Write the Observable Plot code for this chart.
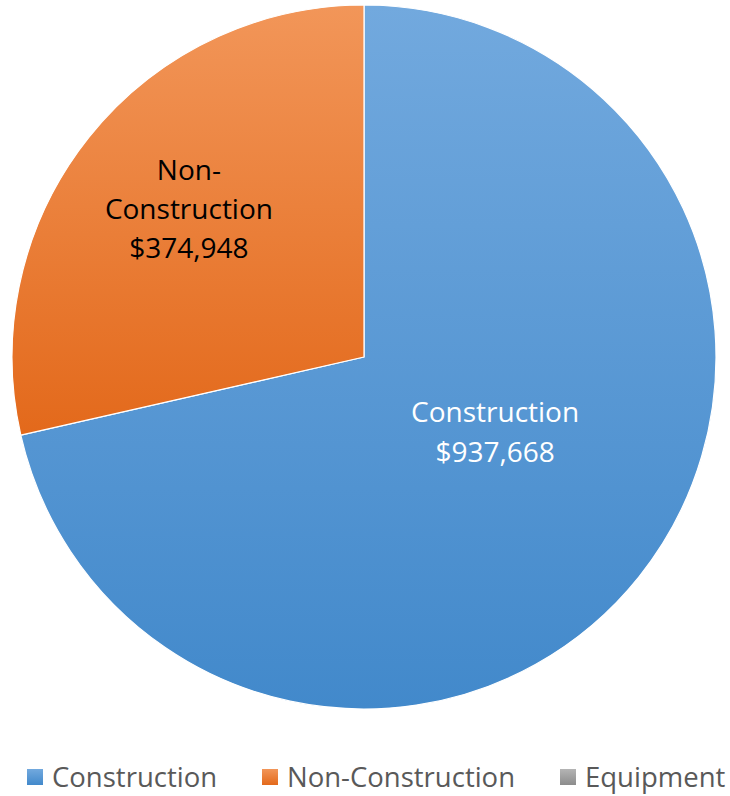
<!DOCTYPE html>
<html>
<head>
<meta charset="utf-8">
<script src="https://cdn.jsdelivr.net/npm/d3@7"></script>
<script src="https://cdn.jsdelivr.net/npm/@observablehq/plot@0.6"></script>
<style>
  html, body { margin: 0; padding: 0; background: #fff; }
  #chart { width: 730px; }
  .legend { position: relative; height: 50px; margin-top: 38px; font-family: "Open Sans", sans-serif; font-size: 27.5px; color: #595959; font-variant-ligatures: none; }
  .legend .item { position: absolute; top: 0; display: flex; align-items: center; white-space: nowrap; }
  .legend .sw { width: 16px; height: 16px; margin-right: 9px; }
  svg text { font-variant-ligatures: none; }
</style>
</head>
<body>
<div id="chart"></div>
<script>
const categories = ["Construction", "Non-Construction", "Equipment"];
const values = [937668, 374948, 0];
const labelNames = ["Construction", "Non-\nConstruction", ""];
const colorsTop = ["#72a9de", "#f29659", "#b4b4b4"];
const colorsBottom = ["#4289cb", "#e3691b", "#8c8c8c"];
const ids = ["gBlue", "gOrange", "gGray"];

const fmt = d3.format("$,");
const data = categories.map((c, i) => ({category: c, value: values[i], name: labelNames[i], label: labelNames[i] + "\n" + fmt(values[i]), i}));
const arcs = d3.pie().sort(null).value(d => d.value)(data);
arcs.forEach(a => {
  const mid = (a.startAngle + a.endAngle) / 2;
  a.data.cx = 0.5 * Math.sin(mid);
  a.data.cy = 0.5 * Math.cos(mid);
});

const pieMark = (index, scales, vals, dimensions) => {
  const g = d3.create("svg:g");
  const defs = g.append("defs");
  ids.forEach((id, i) => {
    const lg = defs.append("linearGradient").attr("id", id).attr("x1", 0).attr("y1", 0).attr("x2", 0).attr("y2", 1);
    lg.append("stop").attr("offset", "0%").attr("stop-color", colorsTop[i]);
    lg.append("stop").attr("offset", "100%").attr("stop-color", colorsBottom[i]);
  });
  const cx = scales.x(0), cy = scales.y(0);
  const r = scales.x(1) - scales.x(0);
  const arc = d3.arc().innerRadius(0).outerRadius(r);
  g.attr("transform", `translate(${cx},${cy})`);
  g.selectAll("path").data(arcs.filter(a => a.data.value > 0)).join("path")
    .attr("d", arc)
    .attr("fill", a => `url(#${ids[a.data.i]})`)
    .attr("stroke", "#ffffff")
    .attr("stroke-width", 1.2)
    .attr("stroke-linejoin", "round");
  return g.node();
};

const W = 730, H = 720, R = 352, CX = 364, CY = 357;
const plot = Plot.plot({
  width: W,
  height: H,
  margin: 0,
  x: {domain: [-CX / R, (W - CX) / R], range: [0, W], axis: null},
  y: {domain: [-(H - CY) / R, CY / R], range: [H, 0], axis: null},
  style: {fontFamily: "'Open Sans', sans-serif", background: "#fff"},
  marks: [
    pieMark,
    Plot.text([arcs[0].data], {x: "cx", y: "cy", text: "label", fill: "#ffffff", fontSize: 28, lineHeight: 1.43, dx: -7, dy: -38}),
    Plot.text([arcs[1].data], {x: "cx", y: "cy", text: "label", fill: "#000000", fontSize: 28, lineHeight: 1.38, dx: -38, dy: -41})
  ]
});
document.getElementById("chart").appendChild(plot);

const legend = d3.select("#chart").append("div").attr("class", "legend");
const lefts = [27, 262, 560];
categories.forEach((c, i) => {
  const it = legend.append("div").attr("class", "item").style("left", lefts[i] + "px");
  it.append("div").attr("class", "sw").style("background", `linear-gradient(${colorsTop[i]}, ${colorsBottom[i]})`);
  it.append("span").text(c);
});
</script>
</body>
</html>
